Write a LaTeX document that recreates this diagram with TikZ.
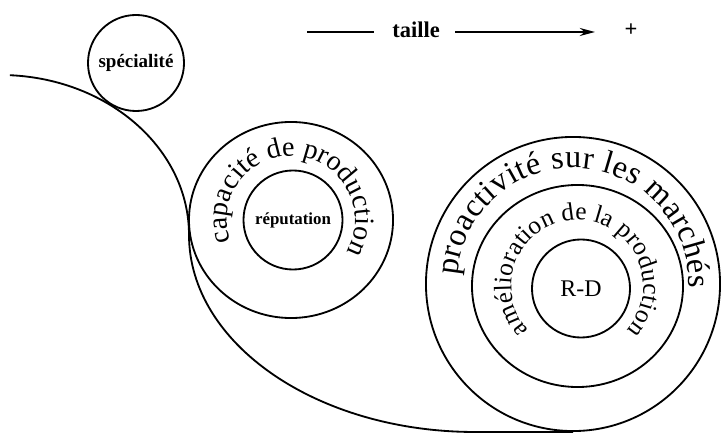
\documentclass[tikz,border=0pt]{standalone}
\usepackage{fontspec}
\setmainfont{Liberation Serif}
\usetikzlibrary{shapes.geometric,decorations.text,arrows.meta}
\tikzset{
  rond/.style={circle,draw,inner sep=0pt},
  ovale/.style={ellipse,draw,inner sep=0pt},
  courbe/.style={decorate,decoration={text along path,text align={fit to path},text={#1}}}
}
\begin{document}
\begin{tikzpicture}[x=0.025cm,y=0.025cm,line width=1.3pt]
    \useasboundingbox (0,0) rectangle (721,434);
    \node[rond,minimum size=2.4cm,font=\bfseries\fontsize{13.5}{13.5}\selectfont] (spec) at (136,371) {spécialité};
    \node[ovale,minimum width=5.1cm,minimum height=4.9cm] (cap) at (291,214) {};
    \node[rond,minimum size=2.475cm,font=\bfseries\fontsize{12}{12}\selectfont] (rep) at (293,214) {réputation};
    \node[rond,minimum size=7.35cm] (pro) at (573,150) {};
    \node[ovale,minimum width=5.275cm,minimum height=5.05cm] (ame) at (577.5,148) {};
    \node[rond,minimum size=2.45cm,font=\fontsize{17}{17}\selectfont] (rd) at (581,145.5) {R-D};
    \path[courbe={|\fontsize{20}{20}\selectfont|capacité de production}] ([shift={(200:64)}]cap.center) arc[start angle=200,end angle=-30,radius=64];
    \path[courbe={|\fontsize{23}{23}\selectfont|proactivité sur les marchés}] ([shift={(176:116)}]pro.center) arc[start angle=176,end angle=-2,radius=116];
    \path[courbe={|\fontsize{18}{18}\selectfont|amélioration de la production}] ([shift={(222:66)}]ame.center) arc[start angle=222,end angle=-42,radius=66];
    \coordinate (depart) at (9.9,358.8);
    \draw (depart) arc[start angle=87,end angle=0,x radius=189,y radius=160] arc[start angle=180,end angle=270,x radius=286,y radius=197] -- (pro.south);
    \node[font=\bfseries\fontsize{16}{16}\selectfont] (taille) at (416,404) {taille};
    \node[font=\bfseries\fontsize{16}{16}\selectfont] (plus) at (631,404) {+};
    \coordinate (moins) at (307,402);
    \draw[line width=1.5pt,shorten >=0.325cm] (moins) -- (moins -| taille.west);
    \draw[line width=1.5pt,-{Stealth[length=0.38cm,width=0.2cm]},shorten <=0.25cm,shorten >=0.6cm] (taille.east |- moins) -- (plus.west |- moins);
\end{tikzpicture}
\end{document}
